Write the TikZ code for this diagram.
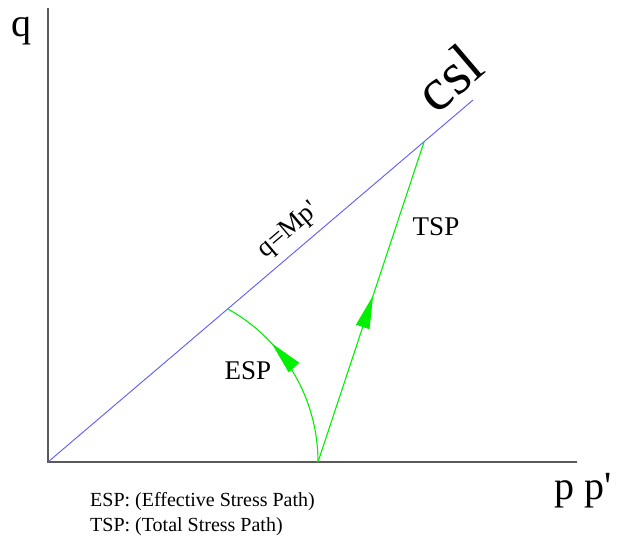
\documentclass[tikz,border=0pt]{standalone}
\usepackage{fontspec}
\setmainfont{Liberation Serif}
\usetikzlibrary{arrows.meta,decorations.markings}
\definecolor{cslblue}{RGB}{90,90,255}
\definecolor{pathgreen}{RGB}{0,240,0}
\definecolor{axisgray}{RGB}{90,90,90}
\begin{document}
\begin{tikzpicture}[x=1pt,y=1pt,
  axis/.style={draw=axisgray,line width=1.4pt},
  csline/.style={draw=cslblue,line width=0.9pt},
  stresspath/.style={draw=pathgreen,line width=1.1pt},
  midarrow/.style={postaction={decorate},decoration={markings,
     mark=at position #1 with {\arrow[pathgreen]{Triangle[length=33pt,width=14pt]}}}},
  lbl/.style={inner sep=0pt,font=\fontsize{27}{30}\selectfont}
]
\useasboundingbox (0,0) rectangle (619,546);
% key points
\coordinate (O) at (48,84);
\coordinate (qtop) at (48,538);
\coordinate (pend) at (577,84);
\coordinate (cslend) at (473,446);
\coordinate (S) at (318,84);
\coordinate (T) at (424,404);
% axes
\draw[axis] (qtop) -- (O) -- (pend);
% critical state line
\draw[csline] (O) -- (cslend);
% total stress path
\draw[stresspath,midarrow=0.52] (S) -- (T);
% effective stress path
\draw[stresspath,midarrow=0.70] (S) arc[start angle=0,end angle=61,radius=175] coordinate (E);
% labels
\node[inner sep=0pt,anchor=base,font=\fontsize{40}{44}\selectfont] (qlab) at (22,509) {q};
\node[inner sep=0pt,anchor=base,font=\fontsize{40}{44}\selectfont] (plab) at (583,46) {p p\textquotesingle};
\node[inner sep=0pt,rotate=40.4,font=\fontsize{60}{66}\selectfont] (csl) at (449,468) {csl};
\node[lbl,rotate=40.4] (qmp) at (289,315) {q=Mp\textquotesingle};
\node[lbl] (tsp) at (436,319) {TSP};
\node[lbl] (esp) at (248,175) {ESP};
\node[inner sep=0pt,anchor=base west,font=\fontsize{20}{22}\selectfont] (leg1) at (90,39) {ESP: (Effective Stress Path)};
\node[inner sep=0pt,anchor=base west,font=\fontsize{20}{22}\selectfont] (leg2) at (90,14) {TSP: (Total Stress Path)};
\end{tikzpicture}
\end{document}
